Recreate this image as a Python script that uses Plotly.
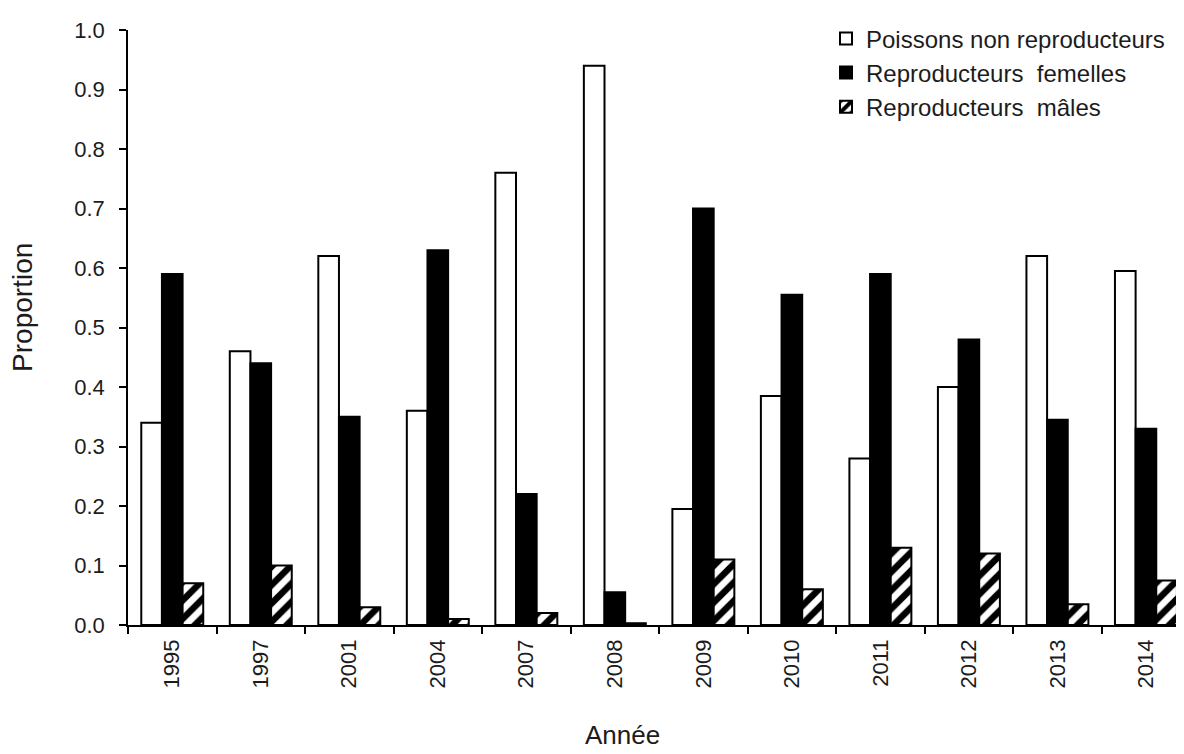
import plotly.graph_objects as go

years = ["1995", "1997", "2001", "2004", "2007", "2008", "2009", "2010", "2011", "2012", "2013", "2014"]
non_repro = [0.34, 0.46, 0.62, 0.36, 0.76, 0.94, 0.195, 0.385, 0.28, 0.40, 0.62, 0.595]
femelles = [0.59, 0.44, 0.35, 0.63, 0.22, 0.055, 0.70, 0.555, 0.59, 0.48, 0.345, 0.33]
males = [0.07, 0.10, 0.03, 0.01, 0.02, 0.003, 0.11, 0.06, 0.13, 0.12, 0.035, 0.075]

series_names = ["Poissons non reproducteurs", "Reproducteurs  femelles", "Reproducteurs  mâles"]
x_title = "Année"
y_title = "Proportion"

TXT = "#1c1c1c"
font_family = "Liberation Sans, Arial, sans-serif"

fig = go.Figure()
fig.add_trace(go.Bar(
    x=years, y=non_repro, name=series_names[0],
    marker=dict(color="white", line=dict(color="black", width=2)),
))
fig.add_trace(go.Bar(
    x=years, y=femelles, name=series_names[1],
    marker=dict(color="black", line=dict(color="black", width=2)),
))
fig.add_trace(go.Bar(
    x=years, y=males, name=series_names[2],
    marker=dict(color="white", line=dict(color="black", width=2),
                pattern=dict(shape="/", fgcolor="black", bgcolor="white", fgopacity=1,
                             size=13, solidity=0.5)),
))

fig.update_layout(
    width=1176, height=746,
    barmode="group",
    bargap=0.30, bargroupgap=0,
    plot_bgcolor="white", paper_bgcolor="white",
    margin=dict(l=120, r=0, t=22, b=129, autoexpand=False),
    font=dict(family=font_family, color=TXT),
    showlegend=True,
    legend=dict(
        x=0.661, y=1.023, xanchor="left", yanchor="top",
        font=dict(size=24, family=font_family, color=TXT),
        bgcolor="rgba(255,255,255,0)",
        itemwidth=30,
    ),
    annotations=[
        dict(text=y_title, xref="paper", yref="paper", x=-0.0994, y=0.533,
             xanchor="center", yanchor="middle", textangle=-90, showarrow=False,
             font=dict(size=28, family=font_family, color=TXT)),
        dict(text=x_title, xref="paper", yref="paper", x=0.468, y=-0.185,
             xanchor="center", yanchor="middle", showarrow=False,
             font=dict(size=26, family=font_family, color=TXT)),
    ],
)
fig.update_xaxes(
    range=[-0.5, 11.43],
    automargin=False,
    showline=True, linecolor="black", linewidth=1.5,
    ticks="outside", ticklen=7, tickcolor="black", tickwidth=1.5,
    tickson="boundaries",
    tickangle=-90,
    ticklabelstandoff=4,
    tickfont=dict(size=22, family=font_family, color=TXT),
    showgrid=False,
)
fig.update_yaxes(
    range=[0, 1.0],
    automargin=False,
    dtick=0.1, tickformat=".1f",
    showline=True, linecolor="black", linewidth=1.5,
    ticks="outside", ticklen=7, tickcolor="black", tickwidth=1.5,
    ticklabelstandoff=10,
    tickfont=dict(size=22, family=font_family, color=TXT),
    showgrid=False, zeroline=False,
)

fig.write_html("out.html")
